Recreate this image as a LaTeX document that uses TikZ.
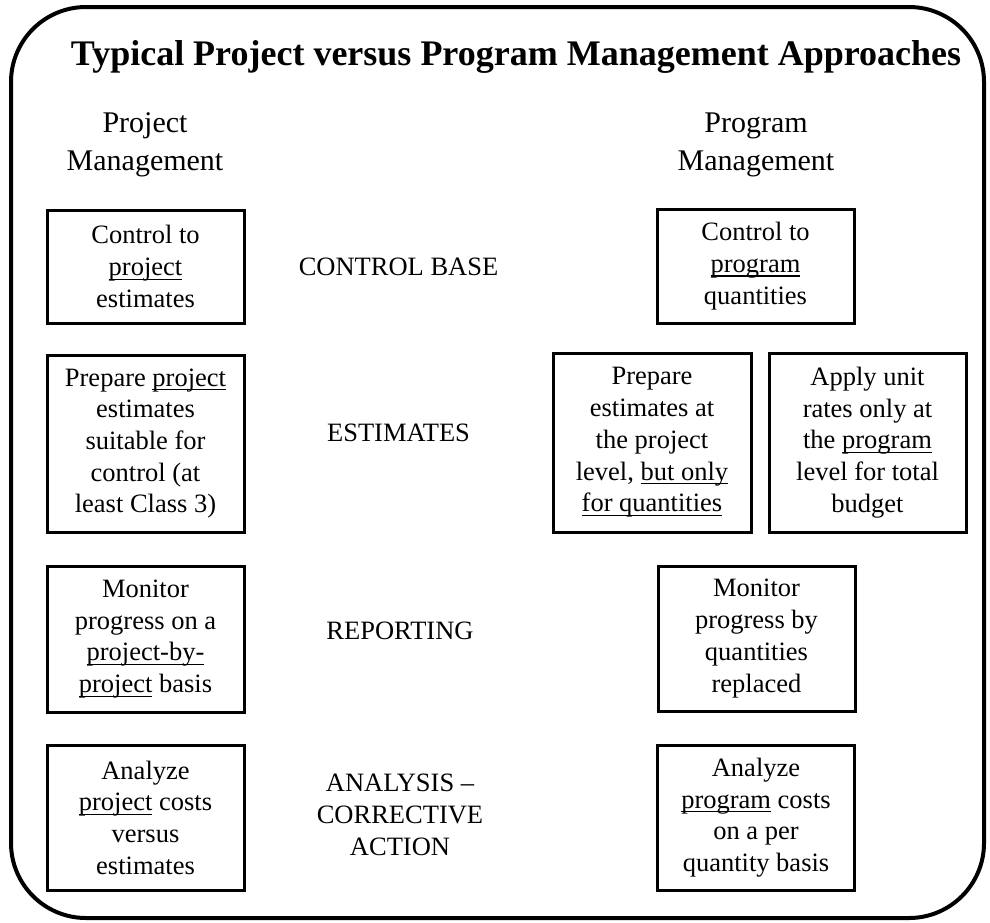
\documentclass[tikz,border=0pt]{standalone}
\usepackage{fontspec}
\setmainfont{Liberation Serif}

\newcommand{\bodyfont}{\fontsize{26.5}{31.7}\selectfont}
\newcommand{\headfont}{\fontsize{30}{38}\selectfont}
\newcommand{\titlefont}{\fontsize{36}{40}\selectfont\bfseries}
% underline that sits just under the baseline
\newcommand{\undr}[1]{\leavevmode\setbox0\hbox{#1}\rlap{\rule[-4.3pt]{\wd0}{1.3pt}}\box0\relax}

\begin{document}
\begin{tikzpicture}[x = 1pt, y = 1pt,
  box/.style = {draw, line width = 3pt, inner sep = 0pt, minimum width = 197pt, align = center, font = \bodyfont},
  tag/.style = {inner sep = 0pt, align = center, font = \bodyfont},
  head/.style = {inner sep = 0pt, align = center, font = \headfont}]
\useasboundingbox (0,0) rectangle (990,-922);
\draw[line width = 4pt, rounded corners = 75pt] (11,-7) rectangle (984,-918);
\node[anchor = base, inner sep = 0pt, font = \titlefont] (title) at (516,-65) {Typical Project versus Program Management Approaches};
\node[head] (projhead) at (145,-145) {Project\\Management};
\node[head] (proghead) at (756,-145) {Program\\Management};
\node[box, minimum height = 113pt] (projbase) at (145.5,-266.5) {Control to\\\undr{project}\\estimates};
\node[tag] (base) at (398.5,-266.5) {CONTROL BASE};
\node[box, minimum height = 114pt] (progbase) at (755.5,-266) {Control to\\\undr{program}\\quantities};
\node[box, minimum height = 177pt] (projest) at (145.5,-443.5) {Prepare \undr{project}\\estimates\\suitable for\\control (at\\least Class 3)};
\node[tag] (est) at (398.5,-433) {ESTIMATES};
\node[box, minimum width = 198pt, minimum height = 179pt] (progqty) at (652,-442.5) {Prepare\\estimates at\\the project\\level, \undr{but only}\\\undr{for quantities}};
\node[box, minimum height = 179pt] (prograte) at (867.5,-442.5) {Apply unit\\rates only at\\the \undr{program}\\level for total\\budget};
\node[box, minimum height = 146pt] (projrep) at (145.5,-639) {Monitor\\progress on a\\\undr{project-by-}\\\undr{project} basis};
\node[tag] (rep) at (400,-631) {REPORTING};
\node[box, minimum height = 145pt] (progrep) at (756.5,-638.5) {Monitor\\progress by\\quantities\\replaced};
\node[box, minimum height = 145pt] (projana) at (145.5,-817.5) {Analyze\\\undr{project} costs\\versus\\estimates};
\node[tag] (ana) at (400,-815) {ANALYSIS --\\CORRECTIVE\\ACTION};
\node[box, minimum height = 145pt] (progana) at (756,-817.5) {Analyze\\\undr{program} costs\\on a per\\quantity basis};
\end{tikzpicture}
\end{document}
